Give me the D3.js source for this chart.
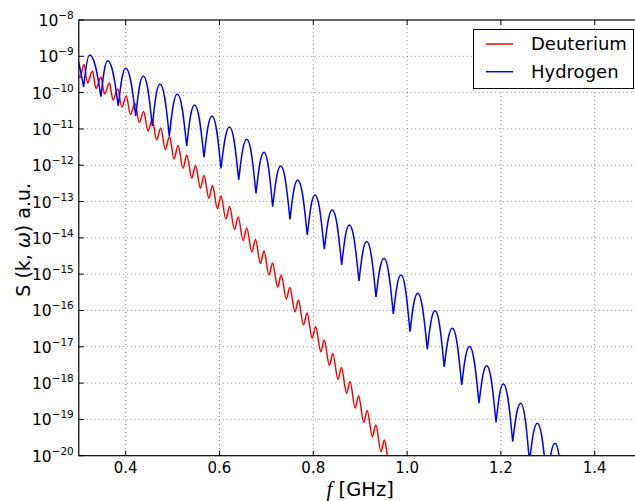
<!DOCTYPE html>
<html><head><meta charset="utf-8">
<script src="https://cdn.jsdelivr.net/npm/d3@7"></script>
<style>html,body{margin:0;padding:0;background:#fff;overflow:hidden}svg{display:block}</style>
</head><body>
<script>
// ---- data (frequency in GHz, value as log10 exponent) ----
const xTicks = [0.4, 0.6, 0.8, 1.0, 1.2, 1.4];
const xTickLabels = ["0.4", "0.6", "0.8", "1.0", "1.2", "1.4"];
const yTickExps = [-8, -9, -10, -11, -12, -13, -14, -15, -16, -17, -18, -19, -20];
const seriesNames = ["Deuterium", "Hydrogen"];

const bluePeakF = [0.2864, 0.3232, 0.3616, 0.4000, 0.4375, 0.4731, 0.5100, 0.5467, 0.5840, 0.6213, 0.6580, 0.6949, 0.7305, 0.7667, 0.8036, 0.8405, 0.8768, 0.9139, 0.9507, 0.9870, 1.0226, 1.0595, 1.0964, 1.1330, 1.1697, 1.2051, 1.2422, 1.2776, 1.3153, 1.3516];
const bluePeakExp = [-8.854, -8.964, -9.121, -9.330, -9.542, -9.763, -10.038, -10.341, -10.644, -10.947, -11.286, -11.644, -12.021, -12.407, -12.820, -13.233, -13.646, -14.100, -14.563, -15.023, -15.527, -16.006, -16.491, -16.992, -17.521, -18.025, -18.556, -19.107, -19.658, -20.228];
const blueTroughF = [0.2727, 0.3104, 0.3473, 0.3842, 0.4213, 0.4567, 0.4930, 0.5301, 0.5670, 0.6032, 0.6409, 0.6778, 0.7134, 0.7503, 0.7872, 0.8234, 0.8605, 0.8974, 0.9337, 0.9706, 1.0062, 1.0431, 1.0791, 1.1164, 1.1533, 1.1896, 1.2252, 1.2610, 1.2983, 1.3346, 1.3708];
const blueTroughExp = [-9.873, -9.845, -10.112, -10.369, -10.644, -10.919, -11.195, -11.470, -11.781, -12.084, -12.407, -12.773, -13.142, -13.489, -13.921, -14.315, -14.747, -15.188, -15.629, -16.097, -16.584, -17.069, -17.557, -18.052, -18.556, -19.080, -19.614, -20.173, -20.751, -21.302, -21.908];

const redPeakF = [0.2932, 0.3111, 0.3292, 0.3473, 0.3652, 0.3832, 0.4013, 0.4198, 0.4382, 0.4565, 0.4748, 0.4934, 0.5117, 0.5303, 0.5488, 0.5670, 0.5851, 0.6032, 0.6215, 0.6399, 0.6582, 0.6768, 0.6949, 0.7132, 0.7316, 0.7499, 0.7682, 0.7866, 0.8049, 0.8232, 0.8416, 0.8599, 0.8783, 0.8966, 0.9149, 0.9333, 0.9516, 0.9699, 0.9883];
const redPeakExp = [-9.074, -9.226, -9.405, -9.570, -9.735, -9.900, -10.093, -10.300, -10.520, -10.740, -10.974, -11.209, -11.456, -11.718, -12.007, -12.283, -12.558, -12.847, -13.136, -13.426, -13.729, -14.045, -14.362, -14.692, -15.023, -15.367, -15.711, -16.069, -16.441, -16.813, -17.185, -17.570, -17.956, -18.355, -18.755, -19.154, -19.567, -19.994, -20.421];
const redTroughF = [0.3026, 0.3186, 0.3367, 0.3548, 0.3729, 0.3917, 0.4102, 0.4290, 0.4476, 0.4659, 0.4844, 0.5030, 0.5222, 0.5409, 0.5593, 0.5774, 0.5955, 0.6136, 0.6320, 0.6503, 0.6689, 0.6872, 0.7055, 0.7239, 0.7424, 0.7610, 0.7791, 0.7977, 0.8160, 0.8343, 0.8527, 0.8710, 0.8893, 0.9077, 0.9260, 0.9443, 0.9627, 0.9810];
const redTroughExp = [-9.584, -9.735, -9.887, -10.038, -10.203, -10.396, -10.603, -10.823, -11.057, -11.305, -11.567, -11.828, -12.084, -12.360, -12.635, -12.911, -13.191, -13.481, -13.770, -14.073, -14.389, -14.706, -15.023, -15.353, -15.684, -16.034, -16.400, -16.766, -17.135, -17.515, -17.901, -18.286, -18.686, -19.085, -19.484, -19.884, -20.311, -20.751];

// ---- layout ----
const W = 635, H = 501;
const L = 78.8, R = 641.6, T = 20, B = 455.7;
const x = d3.scaleLinear().domain([0.3, 1.5]).range([L, R]);
const y = d3.scaleLog().domain([1e-20, 1e-8]).range([B, T]);
const font = "'DejaVu Sans', sans-serif";

const svg = d3.select("body").append("svg").attr("width", W).attr("height", H);
svg.append("rect").attr("width", W).attr("height", H).attr("fill", "#fff");

svg.append("defs").append("clipPath").attr("id", "clip")
  .append("rect").attr("x", L).attr("y", T).attr("width", R - L).attr("height", B - T);

// grid
const grid = svg.append("g").attr("stroke", "#000").attr("stroke-width", 0.6)
  .attr("stroke-dasharray", "1,3").attr("opacity", 0.75);
xTicks.forEach(v => grid.append("line").attr("x1", x(v)).attr("x2", x(v)).attr("y1", T).attr("y2", B));
yTickExps.slice(1, -1).forEach(e => grid.append("line").attr("x1", L).attr("x2", R).attr("y1", y(Math.pow(10, e))).attr("y2", y(Math.pow(10, e))));

// curves
const plot = svg.append("g").attr("clip-path", "url(#clip)");

// Deuterium (red): smooth line through alternating peaks/troughs
const redPts = [];
redPeakF.forEach((f, i) => {
  redPts.push([f, Math.pow(10, redPeakExp[i])]);
  if (i < redTroughF.length) redPts.push([redTroughF[i], Math.pow(10, redTroughExp[i])]);
});
plot.append("path")
  .attr("d", d3.line().x(d => x(d[0])).y(d => y(d[1])).curve(d3.curveMonotoneX)(redPts))
  .attr("fill", "none").attr("stroke", "#ff0000").attr("stroke-width", 1.5);

// Hydrogen (blue): arches between troughs
const kTop = 0.5, kBotY = 0.3, kBotX = 0.2;
const bp = d3.path();
bluePeakF.forEach((f, i) => {
  const ax = x(blueTroughF[i]), ay = y(Math.pow(10, blueTroughExp[i]));
  const px = x(f), py = y(Math.pow(10, bluePeakExp[i]));
  const bx = x(blueTroughF[i + 1]), by = y(Math.pow(10, blueTroughExp[i + 1]));
  if (i === 0) bp.moveTo(ax, ay);
  bp.bezierCurveTo(ax + kBotX * (px - ax), ay + kBotY * (py - ay), px - kTop * (px - ax), py, px, py);
  bp.bezierCurveTo(px + kTop * (bx - px), py, bx - kBotX * (bx - px), by + kBotY * (py - by), bx, by);
});
plot.append("path").attr("d", bp.toString())
  .attr("fill", "none").attr("stroke", "#0000ff").attr("stroke-width", 1.5);

// frame
svg.append("rect").attr("x", L).attr("y", T).attr("width", R - L).attr("height", B - T)
  .attr("fill", "none").attr("stroke", "#000").attr("stroke-width", 1.2);

// ticks (inward)
const tk = svg.append("g").attr("stroke", "#000").attr("stroke-width", 1);
xTicks.forEach(v => {
  tk.append("line").attr("x1", x(v)).attr("x2", x(v)).attr("y1", B).attr("y2", B - 5);
  tk.append("line").attr("x1", x(v)).attr("x2", x(v)).attr("y1", T).attr("y2", T + 5);
});
yTickExps.forEach(e => {
  const yy = y(Math.pow(10, e));
  tk.append("line").attr("x1", L).attr("x2", L + 5).attr("y1", yy).attr("y2", yy);
});

// tick labels
xTicks.forEach((v, i) => {
  svg.append("text").attr("x", x(v)).attr("y", B + 17.5).attr("text-anchor", "middle")
    .attr("font-family", font).attr("font-size", 15).attr("fill", "#000").text(xTickLabels[i]);
});
yTickExps.forEach(e => {
  const yy = y(Math.pow(10, e));
  const t = svg.append("text").attr("x", L - 5).attr("y", yy + 6).attr("text-anchor", "end")
    .attr("font-family", font).attr("font-size", 15.5).attr("fill", "#000");
  t.append("tspan").text("10");
  t.append("tspan").attr("dy", -7).attr("font-size", 10.5).text("\u2212" + Math.abs(e));
});

// axis labels
const xl = svg.append("text").attr("x", (L + R) / 2).attr("y", 496).attr("text-anchor", "middle")
  .attr("font-family", font).attr("font-size", 19.5).attr("fill", "#000");
xl.append("tspan").attr("font-family", "'Liberation Serif', serif").attr("font-style", "italic").attr("font-size", 21).text("f");
xl.append("tspan").text(" [GHz]");

const yl = svg.append("text").attr("transform", `translate(30,${(T + B) / 2 + 2}) rotate(-90)`)
  .attr("text-anchor", "middle").attr("font-family", font).attr("font-size", 19).attr("fill", "#000");
yl.append("tspan").text("S (k, ");
yl.append("tspan").attr("font-family", "'DejaVu Sans', sans-serif").attr("font-style", "italic").attr("font-size", 19).text("\u03c9");
yl.append("tspan").text(") a.u.");

// legend
const lg = svg.append("g");
lg.append("rect").attr("x", 473.5).attr("y", 29.5).attr("width", 160).attr("height", 59)
  .attr("fill", "#fff").attr("stroke", "#000").attr("stroke-width", 1);
const lcol = ["#ff0000", "#0000ff"];
seriesNames.forEach((n, i) => {
  const yy = 44 + i * 27.7;
  lg.append("line").attr("x1", 486).attr("x2", 513).attr("y1", yy).attr("y2", yy)
    .attr("stroke", lcol[i]).attr("stroke-width", 1.5);
  lg.append("text").attr("x", 531).attr("y", yy + 6.3).attr("font-family", font).attr("font-size", 18)
    .attr("fill", "#000").text(n);
});
</script>
</body></html>
